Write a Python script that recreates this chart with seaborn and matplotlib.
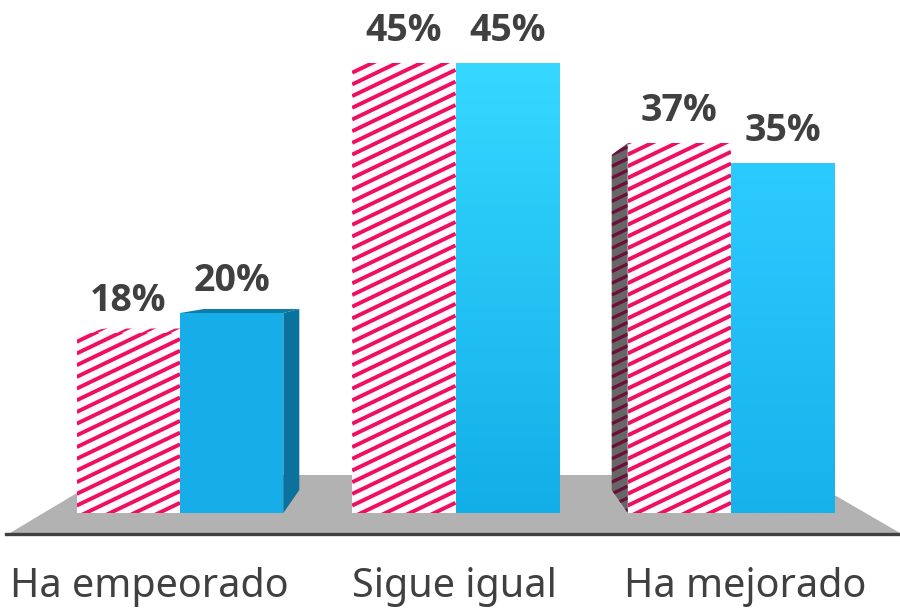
import numpy as np
import pandas as pd
import matplotlib.pyplot as plt
from matplotlib.colors import LinearSegmentedColormap
import seaborn as sns

categories = ['Ha empeorado', 'Sigue igual', 'Ha mejorado']
serie_a = [18, 45, 37]
serie_b = [20, 45, 35]

PINK = '#F00F5E'
WHITE = '#FFFAFF'
BLUE = '#16ADE8'
GREY = '#404040'

sns.set_style('white')
plt.rcParams['font.family'] = ['Noto Sans', 'DejaVu Sans']

df = pd.DataFrame({
    'cat': categories * 2,
    'val': serie_a + serie_b,
    'serie': ['a'] * 3 + ['b'] * 3,
})

fig = plt.figure(figsize=(9, 6.08), dpi=100)
# axes bottom spine doubles as the dark floor edge
ax = fig.add_axes([6 / 900, (608 - 534) / 608, 894 / 900, 534 / 608])

sns.barplot(data=df, x='cat', y='val', hue='serie', palette={'a': WHITE, 'b': BLUE},
            width=0.75, gap=0, legend=False, saturation=1, linewidth=0, ax=ax, zorder=2)

# pixel helpers: 275.5 px between groups, 10 px per percent
XU = 1 / 275.5
YU = 0.1
xlim = (-174 * XU, 720 * XU)
ylim = (-2.1, 51.3)

bars = list(ax.patches)
pink_bars = bars[:3]
blue_bars = bars[3:6]


def stripes(clip, x0, x1, color, lw=2.8):
    # shallow diagonal hatch, clipped to the given patch
    slope = 0.48 * YU / XU
    for y in np.arange(-25, 60, 1.17):
        ln, = ax.plot([x0, x1], [y, y + slope * (x1 - x0)], color=color, lw=lw,
                      solid_capstyle='butt', zorder=3)
        ln.set_clip_path(clip)


# floor
floor = [(101 / 894, 59 / 534), (4 / 894, 1 / 534), (894 / 894, 1 / 534), (794 / 894, 59 / 534)]
ax.fill(*zip(*floor), color='#B2B2B2', transform=ax.transAxes, zorder=1, lw=0)

# pink bars
for b in pink_bars:
    stripes(b, b.get_x(), b.get_x() + b.get_width(), PINK)

# top face of first pink bar
b = pink_bars[0]
x0, w, h = b.get_x(), b.get_width(), b.get_height()
top = ax.fill([x0, x0 + 29 * XU, x0 + w, x0 + w], [h, h + 0.45, h + 0.45, h], color=WHITE, lw=0, zorder=2)[0]
stripes(top, x0, x0 + w, PINK, lw=1.6)

# left face of third pink bar
b = pink_bars[2]
x0, h = b.get_x(), b.get_height()
d = 16 * XU
left = ax.fill([x0, x0 - d, x0 - d, x0], [h, h - 1.2, 2.3, 0], color='#666666', lw=0, zorder=2)[0]
stripes(left, x0 - d, x0, '#6E0F3A', lw=2.4)

# first blue bar: top and side
b = blue_bars[0]
x0, w, h = b.get_x(), b.get_width(), b.get_height()
x1 = x0 + w
ax.fill([x0, x0 + 24 * XU, x1 + d, x1], [h, h + 0.4, h + 0.4, h], color='#0A7DA8', lw=0, zorder=2)
ax.fill([x1, x1 + d, x1 + d, x1], [h, h + 0.4, 2.3, 0], color='#0A729C', lw=0, zorder=2)

# gradients on the other two blue bars
for b, c_top, c_bot in zip(blue_bars[1:], ['#36D8FF', '#2CCBFF'], ['#12AEE8', '#16B2EC']):
    cmap = LinearSegmentedColormap.from_list('g', [c_top, c_bot])
    x0, w, h = b.get_x(), b.get_width(), b.get_height()
    im = ax.imshow(np.linspace(0, 1, 256).reshape(-1, 1), cmap=cmap, aspect='auto',
                   extent=(x0, x0 + w, 0, h), zorder=3, origin='upper')
    im.set_clip_path(b)

# value labels
for cont in ax.containers:
    ax.bar_label(cont, labels=[f'{v:.0f}%' for v in cont.datavalues], padding=9.5,
                 fontsize=27, fontweight='bold', family=['Open Sans', 'DejaVu Sans'],
                 color=GREY, zorder=6)

ax.set_xlim(*xlim)
ax.set_ylim(*ylim)
ax.set_xticks([(149 - 180) * XU, (454 - 180) * XU, (745 - 180) * XU], categories)
ax.tick_params(axis='x', length=0, pad=24, labelsize=28.5, labelcolor=GREY)
ax.set_yticks([])
ax.set_xlabel('')
ax.set_ylabel('')
for s in ['top', 'left', 'right']:
    ax.spines[s].set_visible(False)
ax.spines['bottom'].set_color(GREY)
ax.spines['bottom'].set_linewidth(2.4)
ax.patch.set_alpha(0)

fig.savefig('out.png', dpi=100)
